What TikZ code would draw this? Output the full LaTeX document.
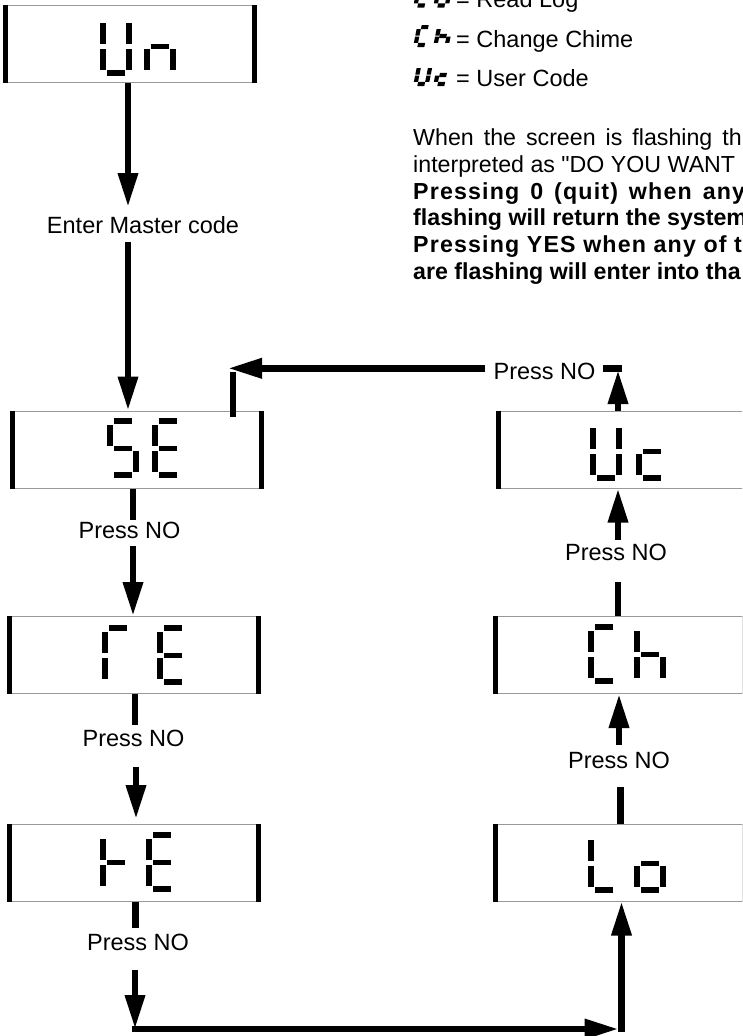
\documentclass[tikz,border=0pt]{standalone}
\usepackage{fontspec}
\setmainfont{Liberation Sans}
\newfontfamily\spacedbold[LetterSpace=5]{Liberation Sans Bold}
\newfontfamily\rawsans[Ligatures=ResetAll]{Liberation Sans}
\usetikzlibrary{arrows.meta}
% big 7-segment pieces (cell 32 x 60, y downwards)
\def\lcdsa{(7,0) rectangle (25,6)}
\def\lcdsb{(26,7) rectangle (32,28)}
\def\lcdsc{(26,33) rectangle (32,54)}
\def\lcdsd{(7,54) rectangle (25,60)}
\def\lcdse{(0,33) rectangle (6,54)}
\def\lcdsf{(0,7) rectangle (6,28)}
\def\lcdsg{(7,28) rectangle (25,33)}
% small slanted 7-segment pieces (cell 15 x 22)
\def\lcdta{(4.3,0) rectangle (11.3,4.2)}
\def\lcdtb{(11.3,4.2) rectangle (15.5,10.5)}
\def\lcdtc{(11.3,11.5) rectangle (15.5,17.8)}
\def\lcdtd{(4.3,17.8) rectangle (11.3,22)}
\def\lcdte{(0,11.5) rectangle (4.2,17.8)}
\def\lcdtf{(0,4.2) rectangle (4.2,10.5)}
\def\lcdtg{(4.3,8.9) rectangle (11.3,13.1)}
\newcommand\lcd[3]{\foreach \s in {#3}{\fill[shift={(#1,#2)}] \csname lcds\s\endcsname;}}
\newcommand\lcdsmall[3]{\foreach \s in {#3}{\fill[shift={(#1,#2)},xslant=0.2,shift={(0,-22)}] \csname lcdt\s\endcsname;}}
\newcommand\dispbars[1]{%
  \draw[bar] ([xshift=2.5pt]#1.north west) -- ([xshift=2.5pt]#1.south west);
  \draw[bar] ([xshift=-2.5pt]#1.north east) -- ([xshift=-2.5pt]#1.south east);}
\begin{document}
\begin{tikzpicture}[x=1pt,y=-1pt,
  disp/.style={rectangle, draw=black!40, line width=1pt, minimum width=253pt, minimum height=77pt, inner sep=0pt},
  bar/.style={line width=5pt},
  arr/.style={line width=6.5pt, -{Triangle[width=19pt,length=34pt]}},
  ln/.style={line width=6.5pt},
  lbl/.style={inner sep=0pt, font=\fontsize{23.5}{27}\selectfont},
  lgd/.style={inner sep=0pt, anchor=base west, font=\fontsize{23.5}{27}\selectfont},
  para/.style={inner sep=0pt, anchor=base west, font=\fontsize{23.2}{27}\selectfont},
  parab/.style={inner sep=0pt, anchor=base west, font=\fontsize{23.2}{27}\selectfont\bfseries},
  parabs/.style={inner sep=0pt, anchor=base west, font=\fontsize{23.2}{27}\selectfont\spacedbold},
]
\useasboundingbox (0,0) rectangle (742,1036);
\clip (0,0) rectangle (742,1036);

% display boxes
\node[disp] (un) at (129.5,44) {};
\node[disp] (se) at (136.5,449.5) {};
\node[disp] (re) at (134,655) {};
\node[disp] (he) at (134,862.5) {};
\node[disp] (uc) at (622.5,449.5) {};
\node[disp] (ch) at (619.5,655) {};
\node[disp] (lo) at (619.5,862.5) {};
\dispbars{un}\dispbars{se}\dispbars{re}\dispbars{he}
\dispbars{uc}\dispbars{ch}\dispbars{lo}

% digits
\lcd{100}{16}{f,e,d,b,c}
\lcd{144}{16}{g,e,c}
\lcd{107}{418}{a,f,g,c,d}
\lcd{152}{418}{a,f,g,e,d}
\lcd{102}{625}{a,f,e}
\lcd{157}{625}{a,f,g,e,d}
\lcd{100}{832}{f,g,e}
\lcd{146}{832}{a,f,g,e,d}
\lcd{590}{421}{f,e,d,b,c}
\lcd{636}{421}{g,e,d}
\lcd{588}{624}{a,f,e,d}
\lcd{634}{624}{f,e,g,c}
\lcd{588}{833}{f,e,d}
\lcd{634}{833}{g,e,c,d}

% legend
\lcdsmall{413}{7.5}{f,e,d}
\lcdsmall{433}{7.5}{g,e,c,d}
\lcdsmall{413}{47}{a,f,e,d}
\lcdsmall{433}{47}{f,e,g,c}
\lcdsmall{413}{86}{f,e,d,b,c}
\lcdsmall{433}{86}{g,e,d}
\node[lgd] (lg1) at (456,7.5) {= Read Log};
\node[lgd] (lg2) at (456,47) {= Change Chime};
\node[lgd] (lg3) at (456,86) {= User Code};

% paragraph
\node[para] (p1) at (413,145.5) {\spaceskip=10pt When the screen is flashing th};
\node[para] (p2) at (413,172.5) {interpreted as {\rawsans"}DO YOU WANT};
\node[parabs] (p3) at (413,199) {\spaceskip=11pt Pressing 0 (quit) when any};
\node[parab] (p4) at (413,225.5) {flashing will return the system};
\node[parabs] (p5) at (413,252.5) {Pressing YES when any of t};
\node[parab] (p6) at (413,279) {are flashing will enter into tha};

% labels
\node[lbl] (emc) at (143,225) {Enter Master code};
\node[lbl] (pn1) at (129.5,530) {Press NO};
\node[lbl] (pn2) at (133.5,738) {Press NO};
\node[lbl] (pn3) at (138,942) {Press NO};
\node[lbl] (pn4) at (619,760) {Press NO};
\node[lbl] (pn5) at (616,552) {Press NO};
\node[lbl] (pn6) at (544.5,371) {Press NO};

% connectors, left column
\coordinate (a1) at (128,207);
\draw[arr] (un.south -| a1) -- (a1);
\coordinate (a2) at (128,242);
\draw[arr] (a2) -- (a2 |- se.north);
\coordinate (s1) at (133,520);
\draw[ln] (se.south -| s1) -- (s1);
\coordinate (a3) at (133,546);
\draw[arr] (a3) -- (a3 |- re.north);
\coordinate (s2) at (135,725);
\draw[ln] (re.south -| s2) -- (s2);
\coordinate (a4) at (136,767);
\coordinate (a4e) at (136,819);
\draw[arr] (a4) -- (a4e);
\coordinate (s3) at (135.5,928);
\draw[ln] (he.south -| s3) -- (s3);
\coordinate (a5) at (135,970);
\coordinate (cor1) at (135,1029);
\draw[arr] (a5) -- (cor1);
\coordinate (cor2) at (621.5,1029);
\draw[arr] ([xshift=-3.25pt]cor1) -- ([xshift=-3pt]cor2);
\draw[arr] ([yshift=-3.25pt]cor2) -- (cor2 |- lo.south);

% connectors, right column
\coordinate (s4) at (620.5,787);
\draw[ln] (lo.north -| s4) -- (s4);
\coordinate (a6) at (619,745);
\draw[arr] (a6) -- (a6 |- ch.south);
\coordinate (s5) at (618,582);
\draw[ln] (ch.north -| s5) -- (s5);
\coordinate (a7) at (618,540);
\draw[arr] (a7) -- (a7 |- uc.south);
\coordinate (a8) at (618,370);
\draw[arr] (uc.north -| a8) -- (a8);
\coordinate (b1) at (603,368.3);
\coordinate (b2) at (621.5,368.3);
\draw[ln] (b1) -- (b2);
\coordinate (a9) at (485,368.3);
\coordinate (a9e) at (228,368.3);
\draw[arr] (a9) -- (a9e);
\coordinate (s6) at (233,372);
\coordinate (s6b) at (233,417);
\draw[ln] (s6b) -- (s6);
\end{tikzpicture}
\end{document}
